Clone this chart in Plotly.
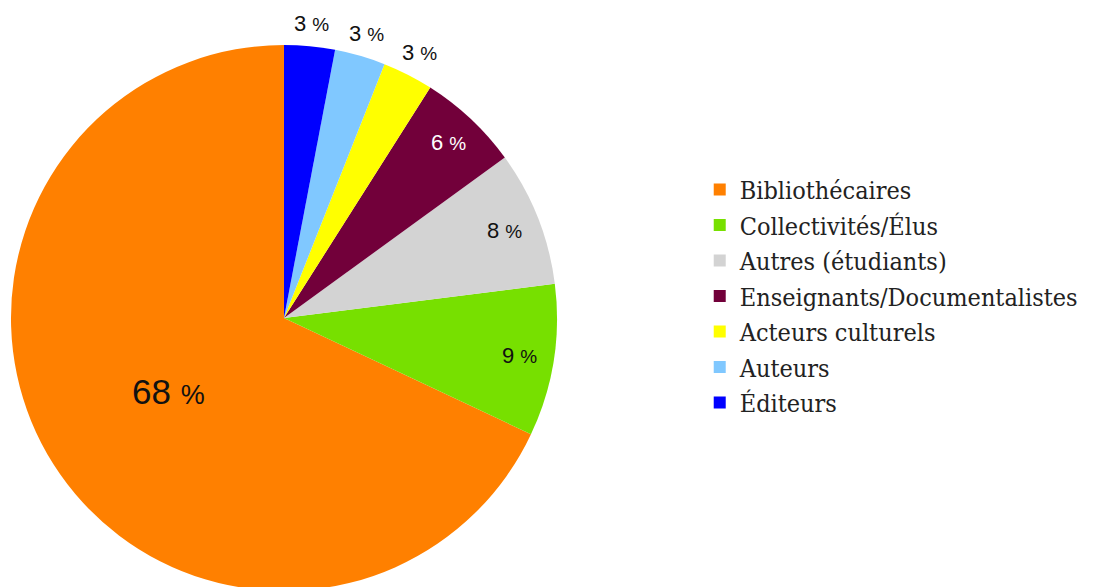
import math
import plotly.graph_objects as go

# Répartition des répondants (%)
categories = ["Bibliothécaires", "Collectivités/Élus", "Autres (étudiants)",
              "Enseignants/Documentalistes", "Acteurs culturels", "Auteurs", "Éditeurs"]
values = [68, 9, 8, 6, 3, 3, 3]
colors = ["#FF8000", "#77E000", "#D3D3D3", "#72003A", "#FFFF00", "#80C8FF", "#0000FF"]

label_sizes = [35, 22, 22, 22, 22, 22, 22]
pct_sizes = [27, 19, 19, 19, 19, 19, 19]
label_colors = ["#111111", "#111111", "#111111", "#FFFFFF", "#111111", "#111111", "#111111"]
label_radius = [0.5, 0.875, 0.87, 0.88, 1.09, 1.085, 1.085]  # fraction du rayon

total = sum(values)
deg = 360 / total
# la première tranche (orange) se termine à 12 heures
rotation = 360 - values[0] * deg

W, H = 1105, 587
M_T, M_B = 37, 4
plot_h = H - M_T - M_B
dom_x = [0.0027, 0.4968]

fig = go.Figure(go.Pie(
    labels=categories,
    values=values,
    textinfo="none",
    marker=dict(colors=colors, line=dict(width=0)),
    sort=False,
    direction="counterclockwise",
    rotation=rotation,
    domain=dict(x=dom_x, y=[0, 1]),
    hoverinfo="label+percent",
))

# étiquettes de pourcentage, à l'angle médian de chaque tranche
cx = (dom_x[0] + dom_x[1]) / 2 * W
cy = M_T + plot_h / 2
R = min((dom_x[1] - dom_x[0]) * W, plot_h) / 2
cum = 0
for i, v in enumerate(values):
    if i == 0:
        mid = rotation + v * deg / 2
    else:
        mid = rotation - (cum + v / 2) * deg
        cum += v
    r_lab = R * label_radius[i]
    px = cx + r_lab * math.sin(math.radians(mid))
    py = cy - r_lab * math.cos(math.radians(mid))
    fig.add_annotation(
        x=px / W, y=1 - (py - M_T) / plot_h, xref="paper", yref="paper",
        text=f"{v} <span style='font-size:{pct_sizes[i]}px'>%</span>",
        showarrow=False, xanchor="center", yanchor="middle",
        font=dict(family="Liberation Sans, Arial, sans-serif", size=label_sizes[i], color=label_colors[i]),
    )

fig.update_layout(
    width=W, height=H,
    margin=dict(l=0, r=0, t=M_T, b=M_B),
    paper_bgcolor="white",
    plot_bgcolor="white",
    showlegend=True,
    legend=dict(
        x=0.626, y=0.54, xanchor="left", yanchor="middle",
        font=dict(family="DejaVu Serif Condensed, DejaVu Serif, serif", size=25, color="#222222"),
        itemwidth=30,
        tracegroupgap=0,
    ),
)

fig.write_html("out.html")
